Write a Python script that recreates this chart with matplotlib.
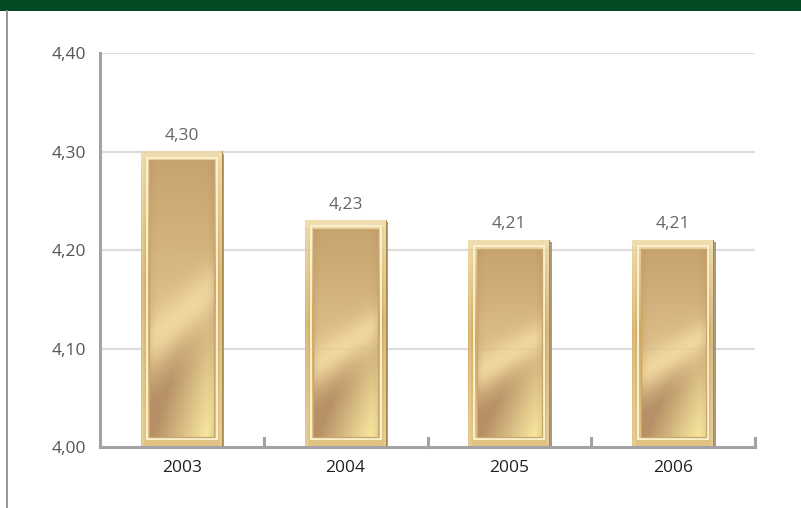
import numpy as np
import matplotlib
matplotlib.use("Agg")
import matplotlib.pyplot as plt
from matplotlib.patches import Rectangle

plt.rcParams["font.family"] = ["Open Sans", "DejaVu Sans"]

years = ["2003", "2004", "2005", "2006"]
values = [4.30, 4.23, 4.21, 4.21]
yticks = [4.00, 4.10, 4.20, 4.30, 4.40]
ytick_labels = ["4,00", "4,10", "4,20", "4,30", "4,40"]
value_labels = ["4,30", "4,23", "4,21", "4,21"]

W, H = 801, 508
fig = plt.figure(figsize=(W / 100, H / 100), dpi=100)
fig.patch.set_facecolor("white")

fig.patches.append(Rectangle((0, 1 - 11 / H), 1, 11 / H, transform=fig.transFigure,
                             facecolor="#034a22", edgecolor="none", zorder=0))
fig.add_artist(plt.Line2D([6.5 / W, 6.5 / W], [0, 1 - 11 / H], transform=fig.transFigure,
                          color="#8c8c8c", lw=1.3))

ax = fig.add_axes([100 / W, 61 / H, 655 / W, 394 / H])
ax.set_xlim(-0.5, 3.5)
ax.set_ylim(4.0, 4.4)
ax.set_facecolor("white")
for s in ["top", "right"]:
    ax.spines[s].set_visible(False)
for s in ["left", "bottom"]:
    ax.spines[s].set_color("#a3a3a7")
    ax.spines[s].set_linewidth(2.2)
ax.spines["bottom"].set_zorder(6)

ax.set_yticks(yticks)
ax.set_yticklabels(ytick_labels, color="#555555", fontsize=12.5)
ax.tick_params(axis="y", length=0, pad=10)
ax.set_xticks(range(len(years)))
ax.set_xticklabels(years, color="#222222", fontsize=12.5)
ax.tick_params(axis="x", length=0, pad=9)
for y in yticks[1:]:
    ax.axhline(y, color="#e3e3e3", lw=1.6, zorder=1)
    ax.axhline(y, color="#b0b0b0", lw=1.4, zorder=5, alpha=0.12)

for xb in np.arange(0.5, len(years), 1.0):
    ax.plot([xb, xb], [4.0, 4.0 + 0.009], color="#a3a3a7", lw=2.2, zorder=6, clip_on=False)

px = 4.0 / 655
py = 0.4 / 394


def hexrgb(h):
    h = h.lstrip("#")
    return np.array([int(h[i:i + 2], 16) / 255 for i in (0, 2, 4)])


def lerp(a, b, t):
    return a * (1 - t[..., None]) + b * t[..., None]


bars = ax.bar(range(len(years)), [v - 4.0 for v in values], bottom=4.0, width=0.5,
              color="#d6b478", edgecolor="none", zorder=2)

for bar in bars:
    x0, y0 = bar.get_x(), bar.get_y()
    w, h = bar.get_width(), bar.get_height()
    wpx, hpx = int(round(w / px)), int(round(h / py))
    ax.add_patch(Rectangle((x0 + 1.5 * px, y0 - 2 * py), w, h, facecolor="#8a7048",
                           edgecolor="none", zorder=2, alpha=0.7))
    X = np.arange(wpx)[None, :] + 0.5
    Y = np.arange(hpx)[:, None] + 0.5
    XX = np.broadcast_to(X, (hpx, wpx))
    YY = np.broadcast_to(Y, (hpx, wpx))
    vt = YY / hpx
    gold_top = hexrgb("#ecd7a2")
    gold_mid = hexrgb("#d4ad64")
    gold_bot = hexrgb("#dfc07e")
    vprof = np.where(vt < 0.45, vt / 0.45, 1 - (vt - 0.45) / 0.55 * 0.6)
    fcol = lerp(np.broadcast_to(gold_top, (hpx, wpx, 3)), np.broadcast_to(gold_mid, (hpx, wpx, 3)),
                np.clip(vprof, 0, 1))
    fcol = lerp(fcol, np.broadcast_to(gold_bot, (hpx, wpx, 3)), np.clip((vt - 0.85) / 0.15, 0, 1) * 0.5)
    dist = np.minimum(XX, wpx - XX)
    light = np.exp(-((dist - 2.0) / 1.4) ** 2) * 0.3
    fcol = lerp(fcol, np.broadcast_to(hexrgb("#f6e8c0"), (hpx, wpx, 3)), light)
    topstrip = np.clip((9 - YY) / 3, 0, 1) * 0.7
    fcol = lerp(fcol, np.broadcast_to(hexrgb("#f1e0b2"), (hpx, wpx, 3)), topstrip)
    redge = np.clip(XX - (wpx - 1.5), 0, 1)
    fcol = lerp(fcol, np.broadcast_to(hexrgb("#a88a52"), (hpx, wpx, 3)), redge)
    ax.imshow(np.clip(fcol, 0, 1), aspect="auto", extent=(x0, x0 + w, y0, y0 + h),
              origin="upper", interpolation="bilinear", zorder=3)
    ix0, iy0 = x0 + 6 * px, y0 + 8 * py
    iw, ih = w - 12 * px, h - 14 * py
    ax.add_patch(Rectangle((ix0, iy0), iw, ih, facecolor="none", edgecolor="#fbf1d0",
                           lw=1.4, zorder=4))
    pw_x0, pw_y0 = ix0 + 2.5 * px, iy0 + 2.5 * py
    pw, ph = iw - 5 * px, ih - 5 * py
    pwp, php = int(round(pw / px)), int(round(ph / py))
    U = np.broadcast_to((np.arange(pwp)[None, :] + 0.5) / pwp, (php, pwp))
    V = np.broadcast_to((np.arange(php)[:, None] + 0.5) / php, (php, pwp))
    top_c = hexrgb("#c7a36f")
    mid_c = hexrgb("#dec08a")
    hi_c = hexrgb("#f4dca4")
    brown = hexrgb("#b89168")
    yellow = hexrgb("#f7e79e")
    base = lerp(np.broadcast_to(top_c, (php, pwp, 3)), np.broadcast_to(mid_c, (php, pwp, 3)),
                np.clip(V / 0.55, 0, 1))
    yc = 0.66 - 0.20 * U
    below = np.clip((V - yc) / 0.22, 0, 1)
    bottom_col = lerp(np.broadcast_to(brown, (php, pwp, 3)), np.broadcast_to(yellow, (php, pwp, 3)),
                      np.clip((U - 0.2) / 0.8 + (V - 0.9) * 1.5, 0, 1))
    base = lerp(base, bottom_col, below)
    hl = np.exp(-((V - yc) / 0.09) ** 2) * 0.8
    base = lerp(base, np.broadcast_to(hi_c, (php, pwp, 3)), hl)
    edge = np.exp(-(np.minimum(U, 1 - U) / 0.08) ** 2) * 0.18
    base = lerp(base, np.broadcast_to(hexrgb("#a88456"), (php, pwp, 3)), edge)
    ax.imshow(np.clip(base, 0, 1), aspect="auto",
              extent=(pw_x0, pw_x0 + pw, pw_y0, pw_y0 + ph), origin="upper",
              interpolation="bilinear", zorder=4.5)
    ax.add_patch(Rectangle((pw_x0, pw_y0), pw, ph, facecolor="none", edgecolor="#c9a66c",
                           lw=0.9, zorder=4.6))

for bar, lab in zip(bars, value_labels):
    ax.text(bar.get_x() + bar.get_width() / 2, bar.get_y() + bar.get_height() + 0.008,
            lab, ha="center", va="bottom", color="#666666", fontsize=12.5, zorder=7)

fig.savefig("out.png", dpi=100, facecolor="white")
